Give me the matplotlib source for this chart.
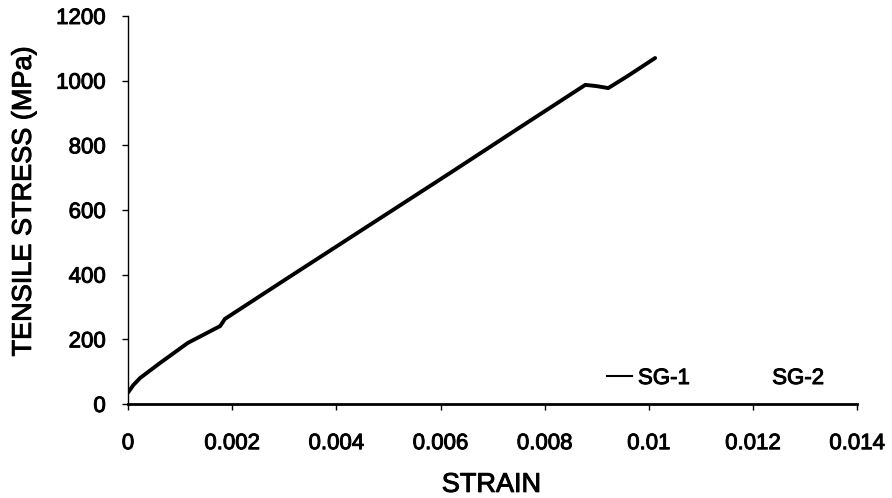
import matplotlib
matplotlib.use("Agg")
import matplotlib.pyplot as plt
import matplotlib.patheffects as pe
from matplotlib.lines import Line2D

plt.rcParams['font.family'] = ['Liberation Sans', 'DejaVu Sans']

# Strain gauge SG-1 readings
strain_sg1 = [0, 0.0001, 0.00023, 0.0006, 0.00115, 0.00177, 0.00186,
              0.00307, 0.0045, 0.00618, 0.0075, 0.00878, 0.0090,
              0.00922, 0.0096, 0.01012]
stress_sg1 = [35, 58, 80, 125, 189, 241, 263,
              390, 539, 714, 853, 987, 983,
              977, 1015, 1070]

x_ticks = [0, 0.002, 0.004, 0.006, 0.008, 0.01, 0.012, 0.014]
x_tick_labels = ["0", "0.002", "0.004", "0.006", "0.008", "0.01", "0.012", "0.014"]
y_ticks = [0, 200, 400, 600, 800, 1000, 1200]
series_names = ["SG-1", "SG-2"]

heavy = [pe.withStroke(linewidth=0.7, foreground='black')]

fig = plt.figure(figsize=(8.92, 4.98), dpi=100)
ax = fig.add_axes([0.1435, 0.1888, 0.8175, 0.7791])

ax.plot(strain_sg1, stress_sg1, color='black', lw=2.8, solid_capstyle='round',
        solid_joinstyle='round')

ax.set_xlim(0, 0.014)
ax.set_ylim(0, 1200)
ax.set_xticks(x_ticks)
ax.set_xticklabels(x_tick_labels)
ax.set_yticks(y_ticks)

for side in ['top', 'right']:
    ax.spines[side].set_visible(False)
ax.spines['left'].set_linewidth(1.0)
ax.spines['bottom'].set_linewidth(2.0)

ax.tick_params(axis='x', direction='out', length=4, width=1, pad=17, labelsize=16)
ax.tick_params(axis='y', direction='out', length=4, width=1, pad=12, labelsize=16)

ax.set_xlabel("STRAIN", fontsize=19.5)
ax.set_ylabel("TENSILE STRESS (MPa)", fontsize=19.5)
ax.xaxis.set_label_coords(0.4986, -0.175)
ax.yaxis.set_label_coords(-0.125, 0.523)

handles = [Line2D([0], [0], color='black', lw=1.5),
           Line2D([0], [0], color='white', lw=1.5)]
leg = ax.legend(handles, series_names, ncol=2, frameon=False, fontsize=16,
                loc='lower right', bbox_to_anchor=(0.982, -0.013),
                handlelength=1.15, handletextpad=0.25, columnspacing=2.3)

texts = (ax.get_xticklabels() + ax.get_yticklabels() + leg.get_texts()
         + [ax.xaxis.label, ax.yaxis.label])
for t in texts:
    t.set_path_effects(heavy)

fig.savefig("out.png", dpi=100)
